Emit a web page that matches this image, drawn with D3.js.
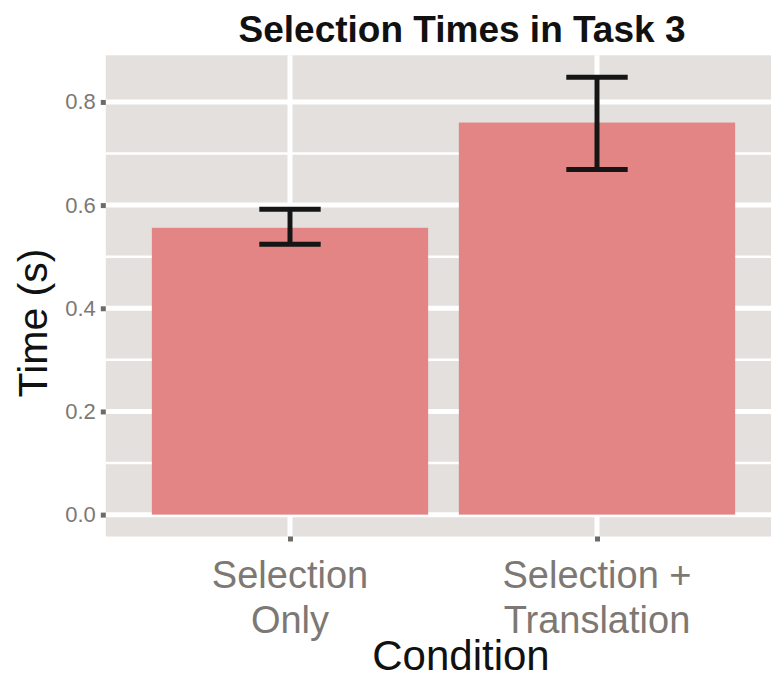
<!DOCTYPE html>
<html><head><meta charset="utf-8">
<script src="https://cdn.jsdelivr.net/npm/d3@7"></script>
<style>html,body{margin:0;padding:0;background:#fff;}svg{display:block;}</style>
</head><body>
<div id="chart"></div>
<script>
const categories = ["Selection Only", "Selection + Translation"];
const categoryLines = [["Selection", "Only"], ["Selection +", "Translation"]];
const meanTime = [0.556, 0.760];
const errLow = [0.524, 0.669];
const errHigh = [0.592, 0.848];
const yTicks = [0.0, 0.2, 0.4, 0.6, 0.8];
const yMinor = [0.1, 0.3, 0.5, 0.7];
const titleText = "Selection Times in Task 3";
const xTitle = "Condition";
const yTitle = "Time (s)";

const W = 771, H = 680;
const panel = {left: 105.8, right: 781.2, top: 55.3, bottom: 536.5};
const font = "'Liberation Sans', Arial, sans-serif";

const svg = d3.select("#chart").append("svg").attr("width", W).attr("height", H);

const maxV = d3.max(errHigh);
const x = d3.scaleLinear().domain([0.4, categories.length + 0.6]).range([panel.left, panel.right]);
const y = d3.scaleLinear().domain([-0.05 * maxV, 1.05 * maxV]).range([panel.bottom, panel.top]);

// panel background
svg.append("rect").attr("x", panel.left).attr("y", panel.top)
  .attr("width", panel.right - panel.left).attr("height", panel.bottom - panel.top)
  .attr("fill", "#E3E0DD");

const g = svg.append("g");
// minor grid
g.selectAll(".minor").data(yMinor).join("line")
  .attr("x1", panel.left).attr("x2", panel.right)
  .attr("y1", d => y(d)).attr("y2", d => y(d))
  .attr("stroke", "#fff").attr("stroke-width", 2.5);
// major grid
g.selectAll(".major").data(yTicks).join("line")
  .attr("x1", panel.left).attr("x2", panel.right)
  .attr("y1", d => y(d)).attr("y2", d => y(d))
  .attr("stroke", "#fff").attr("stroke-width", 5);
g.selectAll(".vmajor").data(categories).join("line")
  .attr("x1", (d, i) => x(i + 1)).attr("x2", (d, i) => x(i + 1))
  .attr("y1", panel.top).attr("y2", panel.bottom)
  .attr("stroke", "#fff").attr("stroke-width", 5);

// bars
g.selectAll(".bar").data(meanTime).join("rect")
  .attr("x", (d, i) => x(i + 1 - 0.45)).attr("width", x(1.9) - x(1))
  .attr("y", d => y(d)).attr("height", d => y(0) - y(d))
  .attr("fill", "#E38584");

// error bars
const eb = g.selectAll(".eb").data(categories).join("g");
eb.append("line")
  .attr("x1", (d, i) => x(i + 1)).attr("x2", (d, i) => x(i + 1))
  .attr("y1", (d, i) => y(errLow[i])).attr("y2", (d, i) => y(errHigh[i]))
  .attr("stroke", "#151515").attr("stroke-width", 5);
eb.append("line")
  .attr("x1", (d, i) => x(i + 0.9)).attr("x2", (d, i) => x(i + 1.1))
  .attr("y1", (d, i) => y(errLow[i])).attr("y2", (d, i) => y(errLow[i]))
  .attr("stroke", "#151515").attr("stroke-width", 5);
eb.append("line")
  .attr("x1", (d, i) => x(i + 0.9)).attr("x2", (d, i) => x(i + 1.1))
  .attr("y1", (d, i) => y(errHigh[i])).attr("y2", (d, i) => y(errHigh[i]))
  .attr("stroke", "#151515").attr("stroke-width", 5);

// y axis
const yAxis = d3.axisLeft(y).tickValues(yTicks).tickFormat(d3.format(".1f")).tickSize(5).tickPadding(5);
const ya = svg.append("g").attr("transform", `translate(${panel.left},0)`).call(yAxis);
ya.select(".domain").remove();
ya.selectAll(".tick line").attr("stroke", "#6E6A66").attr("stroke-width", 5);
ya.selectAll(".tick text").attr("fill", "#7D7873").attr("font-family", font).attr("font-size", 22);

// x axis
const xAxis = d3.axisBottom(x).tickValues(categories.map((d, i) => i + 1)).tickFormat("").tickSize(5);
const xa = svg.append("g").attr("transform", `translate(0,${panel.bottom})`).call(xAxis);
xa.select(".domain").remove();
xa.selectAll(".tick line").attr("stroke", "#6E6A66").attr("stroke-width", 5);
const xl = svg.selectAll(".xlab").data(categoryLines).join("text")
  .attr("x", (d, i) => x(i + 1)).attr("y", 588)
  .attr("text-anchor", "middle").attr("fill", "#7D7873")
  .attr("font-family", font).attr("font-size", 38);
xl.selectAll("tspan").data(d => d).join("tspan")
  .attr("x", function() { return d3.select(this.parentNode).attr("x"); })
  .attr("dy", (d, j) => j === 0 ? 0 : 45)
  .text(d => d);

// titles
svg.append("text").attr("x", 461).attr("y", 670).attr("text-anchor", "middle")
  .attr("font-family", font).attr("font-size", 42).attr("fill", "#111").text(xTitle);
svg.append("text").attr("transform", `translate(47,323) rotate(-90)`)
  .attr("text-anchor", "middle").attr("font-family", font).attr("font-size", 41)
  .attr("fill", "#111").text(yTitle);
svg.append("text").attr("x", 462).attr("y", 42).attr("text-anchor", "middle")
  .attr("font-family", font).attr("font-size", 37).attr("font-weight", "bold")
  .attr("fill", "#111").text(titleText);
</script>
</body></html>
